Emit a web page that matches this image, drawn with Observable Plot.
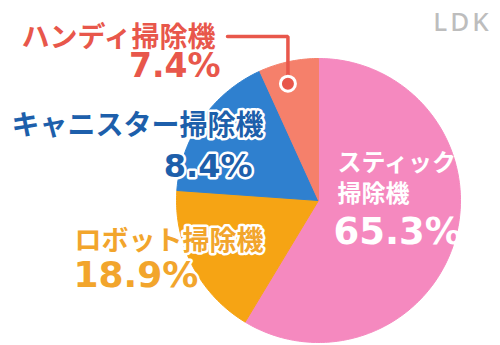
<!DOCTYPE html>
<html><head><meta charset="utf-8">
<script src="https://cdn.jsdelivr.net/npm/d3@7"></script>
<script src="https://cdn.jsdelivr.net/npm/@observablehq/plot@0.6"></script>
<style>
html,body{margin:0;padding:0;background:#fff;}
#chart svg{display:block;}
</style></head>
<body><div id="chart"></div>
<script>
// ---- data ----
const categories = ["スティック掃除機","ロボット掃除機","キャニスター掃除機","ハンディ掃除機"];
const nameLabels = ["スティック\n掃除機","ロボット掃除機","キャニスター掃除機","ハンディ掃除機"];
const percentLabels = ["65.3%","18.9%","8.4%","7.4%"];
// slice shares as drawn in the picture (angles, as %)
const sliceShares = [58.7, 17.5, 17.1, 6.8];
const sliceColors = ["#F589BF","#F6A414","#2F80CF","#F5806B"];
const textColors = ["#FFFFFF","#F2A52C","#1D5FAB","#E8574B"];
const brand = "LDK";

// ---- layout ----
const W = 500, H = 345, CX = 318, CY = 200, R = 142;
const toX = px => (px - CX) / R, toY = py => (CY - py) / R;
const nameLayout = [
  {x:337, y:176, anchor:"start", size:24},
  {x:74,  y:238, anchor:"start", size:27},
  {x:11,  y:123, anchor:"start", size:28},
  {x:21,  y:35,  anchor:"start", size:28}
];
const pctLayout = [
  {x:333, y:232, anchor:"start", size:37},
  {x:73,  y:275, anchor:"start", size:36},
  {x:252, y:166, anchor:"end",   size:32},
  {x:220, y:66,  anchor:"end",   size:33}
];
const leaderStart = {x:227, y:36};
const dotRadiusFrac = 0.85, dotAngleFrac = 0.4;

// ---- slices ----
const total = d3.sum(sliceShares);
let acc = 0;
const slices = sliceShares.map((v, i) => {
  const a0 = acc / total * 2 * Math.PI; acc += v;
  const a1 = acc / total * 2 * Math.PI;
  return {i, a0, a1, cat: categories[i]};
});
const pts = [];
for (const s of slices) {
  pts.push({cat: s.cat, x: 0, y: 0});
  const n = Math.max(2, Math.ceil((s.a1 - s.a0) / (Math.PI / 180)));
  for (let k = 0; k <= n; k++) {
    const a = s.a0 + (s.a1 - s.a0) * k / n;
    pts.push({cat: s.cat, x: Math.sin(a), y: Math.cos(a)});
  }
  pts.push({cat: s.cat, x: 0, y: 0});
}

// leader for smallest slice
const hs = slices[3];
const am = hs.a0 + (hs.a1 - hs.a0) * dotAngleFrac;
const dotP = {x: dotRadiusFrac * Math.sin(am), y: dotRadiusFrac * Math.cos(am)};
const leader = [
  {x: toX(leaderStart.x), y: toY(leaderStart.y)},
  {x: dotP.x, y: toY(leaderStart.y)},
  {x: dotP.x, y: dotP.y}
];

const JP = "'Noto Sans CJK JP','Noto Sans',sans-serif";
const NUM = "'DejaVu Sans',sans-serif";
const marks = [
  Plot.line(pts, {x: "x", y: "y", z: "cat", fill: "cat", stroke: "cat", strokeWidth: 1, curve: "linear"}),
  Plot.line(leader, {x: "x", y: "y", stroke: textColors[3], strokeWidth: 3.5, strokeLinejoin: "miter"}),
  Plot.dot([dotP], {x: "x", y: "y", r: 7.5, fill: textColors[3], stroke: "white", strokeWidth: 3})
];
categories.forEach((c, i) => {
  const halo = i === 0 ? {} : {stroke: "white", strokeWidth: 5, paintOrder: "stroke", strokeLinejoin: "round"};
  const nl = nameLayout[i], pl = pctLayout[i];
  marks.push(Plot.text([nameLabels[i]], {x: () => toX(nl.x), y: () => toY(nl.y), text: d => d,
    textAnchor: nl.anchor, lineAnchor: "middle", lineHeight: 1.28, fontSize: nl.size, fontWeight: 700,
    fontFamily: JP, fill: textColors[i], ...halo}));
  marks.push(Plot.text([percentLabels[i]], {x: () => toX(pl.x), y: () => toY(pl.y), text: d => d,
    textAnchor: pl.anchor, lineAnchor: "middle", fontSize: pl.size, fontWeight: 700,
    fontFamily: NUM, fill: textColors[i], ...halo}));
});
marks.push(Plot.text([brand], {x: () => toX(462), y: () => toY(22), text: d => d, textAnchor: "middle",
  fontSize: 26, fontWeight: 500, fontFamily: "'Noto Sans',sans-serif", fill: "#BDBDBD"}));

const chart = Plot.plot({
  width: W, height: H,
  marginLeft: CX - R, marginRight: W - (CX + R), marginTop: CY - R, marginBottom: H - (CY + R),
  x: {domain: [-1, 1], axis: null},
  y: {domain: [-1, 1], axis: null},
  color: {domain: categories, range: sliceColors},
  style: {background: "white", overflow: "visible"},
  marks
});
d3.select(chart).selectAll("text").filter(function() { return this.textContent === brand; })
  .style("letter-spacing", "3px");
document.getElementById("chart").appendChild(chart);
</script>
</body></html>
